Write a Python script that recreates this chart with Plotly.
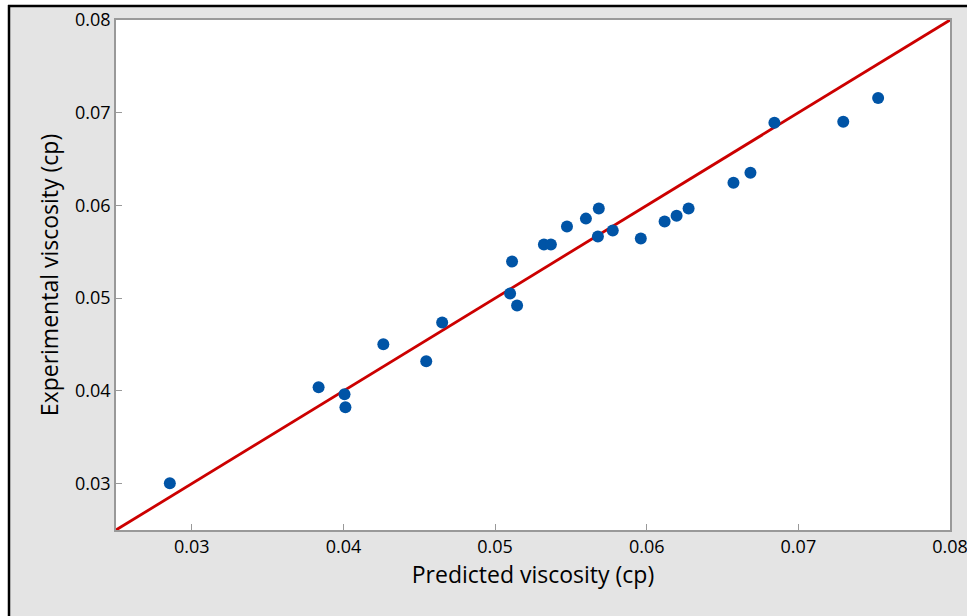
import plotly.graph_objects as go

# Data
predicted = [0.02855, 0.03836, 0.04007, 0.04013, 0.04263, 0.04546, 0.04651,
             0.05099, 0.05112, 0.05145, 0.05322, 0.05368, 0.05474, 0.05599,
             0.05684, 0.05678, 0.05776, 0.05961, 0.06118, 0.06197, 0.06276,
             0.06572, 0.06684, 0.06842, 0.07296, 0.07526]
experimental = [0.03005, 0.04039, 0.03963, 0.03823, 0.04502, 0.04319, 0.04738,
                0.05051, 0.05395, 0.04921, 0.05578, 0.05578, 0.05772, 0.05858,
                0.05966, 0.05664, 0.05729, 0.05643, 0.05826, 0.05890, 0.05966,
                0.06245, 0.06353, 0.06891, 0.06902, 0.07160]
fit_x = [0.025, 0.08]
fit_y = [0.025, 0.08]
tick_vals = [0.03, 0.04, 0.05, 0.06, 0.07, 0.08]
tick_text = ["0.03", "0.04", "0.05", "0.06", "0.07", "0.08"]

FONT = "Open Sans"
W, H = 967, 616
L, R, T, B = 116, 17, 20, 86
pw, ph = W - L - R, H - T - B

def px(x):
    return (x - L) / pw

def py(y):
    return (H - B - y) / ph

fig = go.Figure()
fig.add_trace(go.Scatter(x=fit_x, y=fit_y, mode="lines",
                         line=dict(color="#cc0000", width=2.8),
                         hoverinfo="skip", showlegend=False))
fig.add_trace(go.Scatter(x=predicted, y=experimental, mode="markers",
                         marker=dict(color="#0054a6", size=12),
                         showlegend=False))

axis_common = dict(
    range=[0.025, 0.08], tickvals=tick_vals, ticktext=tick_text,
    ticks="inside", ticklen=6, tickcolor="#999999", tickwidth=1,
    showline=True, mirror=True, linecolor="#999999", linewidth=1.5,
    showgrid=False, zeroline=False, ticklabeloverflow="allow",
    tickfont=dict(family=FONT, size=18, color="black"),
)

fig.update_xaxes(**axis_common,
                 title=dict(text="Predicted viscosity (cp)",
                            font=dict(family=FONT, size=23, color="black"),
                            standoff=10))
fig.update_yaxes(**axis_common,
                 title=dict(text="Experimental viscosity (cp)",
                            font=dict(family=FONT, size=23, color="black"),
                            standoff=10))

shapes = [
    # white strips outside the frame
    dict(type="rect", xref="paper", yref="paper", x0=px(0), x1=px(8),
         y0=py(H), y1=py(0), fillcolor="white", line=dict(width=0), layer="above"),
    dict(type="rect", xref="paper", yref="paper", x0=px(0), x1=px(W),
         y0=py(5), y1=py(0), fillcolor="white", line=dict(width=0), layer="above"),
    # black frame lines
    dict(type="line", xref="paper", yref="paper", x0=px(9), x1=px(9),
         y0=py(H), y1=py(5), line=dict(color="black", width=2.5), layer="above"),
    dict(type="line", xref="paper", yref="paper", x0=px(8), x1=px(W),
         y0=py(6), y1=py(6), line=dict(color="black", width=2.5), layer="above"),
]

fig.update_layout(
    width=W, height=H,
    margin=dict(l=L, r=R, t=T, b=B, autoexpand=False),
    paper_bgcolor="#e4e4e4", plot_bgcolor="white",
    shapes=shapes,
    font=dict(family=FONT),
)
fig.update_xaxes(automargin=False)
fig.update_yaxes(automargin=False)

fig.write_html("out.html", config={"displayModeBar": False})
